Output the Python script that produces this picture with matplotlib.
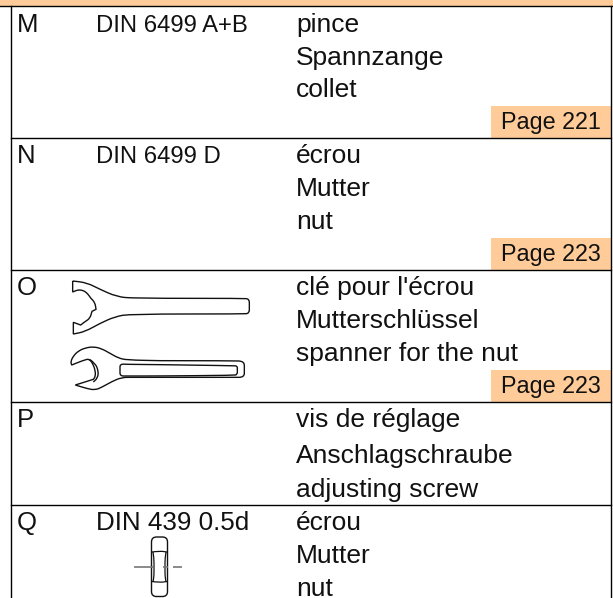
"""
plot.py - parts table with spanner and nut sketches.
"""

import matplotlib
matplotlib.use("Agg")
import matplotlib.pyplot as plt
from matplotlib.patches import FancyBboxPatch, PathPatch, Rectangle
from matplotlib.path import Path

W, H = 613, 598
ORANGE = "#FFCC99"
INK = "#111111"
SKETCH = "#111111"

LETTERS = ["M", "N", "O", "P", "Q"]
NORMS = ["DIN 6499 A+B", "DIN 6499 D", "", "", "DIN 439 0.5d"]
NORM_SIZES = [17.2, 17.2, 17.2, 17.2, 18.7]
NAMES = [
    ["pince", "Spannzange", "collet"],
    ["écrou", "Mutter", "nut"],
    ["clé pour l'écrou", "Mutterschlüssel", "spanner for the nut"],
    ["vis de réglage", "Anschlagschraube", "adjusting screw"],
    ["écrou", "Mutter", "nut"],
]
PAGES = ["Page 221", "Page 223", "Page 223", "", ""]

ROW_LINES = [6, 138, 270, 402, 505]
BASELINES = [32, 163, 295, 427, 530]
NAME_BASELINES = [
    [32, 65, 97],
    [163, 196, 229],
    [295, 328, 361],
    [427, 463, 497],
    [530, 563, 596],
]
BOX_HEIGHT = 32

# sketch outlines, in 3x crop coordinates of the wrench region (origin 0, 270)
# a repeated point stays a sharp corner, the others get rounded
WRENCH1_OUTER = [(218, 33), (218, 33), (218, 66), (218, 66), (232, 60), (245, 60), (258, 66),
                 (268, 78), (272, 84), (272, 84), (285, 98), (288, 118), (288, 118), (276, 124),
                 (276, 124), (270, 145), (255, 155), (242, 165), (242, 165), (220, 157),
                 (220, 157), (220, 192), (220, 192), (255, 185), (300, 160), (345, 140),
                 (390, 132), (730, 132), (748, 130), (748, 108), (748, 87), (730, 85),
                 (400, 85), (350, 80), (300, 58), (260, 38), (218, 33), (218, 33)]
WRENCH2_OUTER = [(480, 272), (700, 272), (733, 274), (733, 298), (733, 322), (700, 322),
                 (400, 322), (365, 322), (335, 335), (305, 352), (285, 360), (262, 356),
                 (226, 345), (226, 345), (280, 328), (280, 328), (286, 320), (286, 302),
                 (278, 280), (268, 268), (258, 268), (215, 285), (215, 285), (212, 275),
                 (220, 258), (235, 243), (255, 234), (280, 230), (305, 236), (330, 250),
                 (355, 264), (380, 270), (480, 272)]
WRENCH2_INNER = [(268, 268), (285, 278), (296, 305), (292, 325), (280, 336)]
WRENCH2_SLOT = [(480, 284), (700, 287), (712, 288), (712, 299), (712, 314), (700, 316),
                (480, 318), (380, 318), (360, 318), (360, 300), (360, 282), (380, 283),
                (480, 284)]

# nut details, in image pixels
NUT_CHAMFERS = [[(152, 552), (159.5, 551), (167, 552)], [(152, 581.5), (159.5, 582.5), (167, 581.5)]]
NUT_SIDES = [[(153, 552), (154, 558), (154, 567), (154, 576), (153, 582)],
             [(166, 552), (165, 558), (165, 567), (165, 576), (166, 582)]]
CENTER_DASHES = [(134, 153), (163, 168), (173, 182)]


def smooth_path(points):
    verts = [points[0]]
    codes = [Path.MOVETO]
    for p, q in zip(points[1:-1], points[2:]):
        verts += [p, ((p[0] + q[0]) / 2, (p[1] + q[1]) / 2)]
        codes += [Path.CURVE3, Path.CURVE3]
    verts.append(points[-1])
    codes.append(Path.LINETO)
    return Path(verts, codes)


def crop_points(points):
    return [(p[0] / 3, 270 + p[1] / 3) for p in points]


def main():
    plt.rcParams["font.family"] = ["Liberation Sans", "DejaVu Sans"]
    fig = plt.figure(figsize=(W / 100, H / 100), dpi=100)
    ax = fig.add_axes([0, 0, 1, 1])
    ax.set_xlim(0, W)
    ax.set_ylim(H, 0)
    ax.axis("off")

    ax.add_patch(Rectangle((0, 0), W, ROW_LINES[0], color=ORANGE, lw=0))
    ax.plot([0, W], [ROW_LINES[0], ROW_LINES[0]], color="black", lw=1.0)
    for y in ROW_LINES[1:]:
        ax.plot([10.5, 611], [y, y], color="black", lw=1.0)
    ax.plot([10.5, 10.5], [ROW_LINES[0], H], color="black", lw=1.0)
    ax.plot([611, 611], [ROW_LINES[0], H], color="black", lw=1.0)

    for i, letter in enumerate(LETTERS):
        ax.text(16.5, BASELINES[i], letter, fontsize=18.5, color=INK, va="baseline")
        if NORMS[i]:
            ax.text(96, BASELINES[i], NORMS[i], fontsize=NORM_SIZES[i], color=INK, va="baseline")
        for name, y in zip(NAMES[i], NAME_BASELINES[i]):
            ax.text(296, y, name, fontsize=19, color=INK, va="baseline")
        if PAGES[i]:
            bottom = ROW_LINES[i + 1] - 0.5
            ax.add_patch(Rectangle((491, bottom - BOX_HEIGHT), 120, BOX_HEIGHT, color=ORANGE, lw=0))
            ax.text(601, bottom - 9, PAGES[i], fontsize=16.8, color=INK, va="baseline", ha="right")

    for outline in (WRENCH1_OUTER, WRENCH2_OUTER, WRENCH2_INNER, WRENCH2_SLOT):
        ax.add_patch(PathPatch(smooth_path(crop_points(outline)), fc="none", ec=SKETCH, lw=1.0))

    # hex nut side view
    ax.add_patch(FancyBboxPatch((151.5, 537), 16, 59.5, boxstyle="round,pad=0,rounding_size=5",
                                fc="white", ec=SKETCH, lw=1.0))
    for curve in NUT_CHAMFERS + NUT_SIDES:
        ax.add_patch(PathPatch(smooth_path(curve), fc="none", ec=SKETCH, lw=0.9))
    for x0, x1 in CENTER_DASHES:
        ax.plot([x0, x1], [566.7, 566.7], color="#777777", lw=1.2, solid_capstyle="butt")

    fig.savefig("out.png", dpi=100)
    plt.close()


if __name__ == "__main__":
    main()
